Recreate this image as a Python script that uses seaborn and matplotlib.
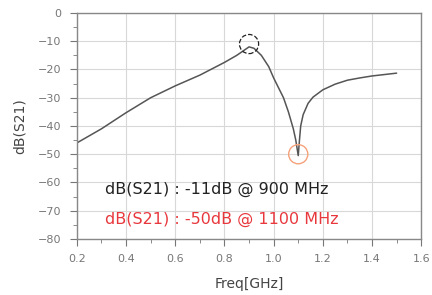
import matplotlib
matplotlib.use('Agg')
import matplotlib.pyplot as plt
import seaborn as sns
import pandas as pd
from matplotlib.ticker import MultipleLocator

# valores
freq = [0.2, 0.3, 0.4, 0.5, 0.6, 0.7, 0.8, 0.85, 0.9, 0.92, 0.95, 0.98, 1.0,
        1.02, 1.04, 1.06, 1.08, 1.09, 1.1, 1.105, 1.11, 1.12, 1.14, 1.16,
        1.2, 1.25, 1.3, 1.35, 1.4, 1.45, 1.5]
s21 = [-46, -41, -35.3, -30, -25.8, -22, -17.5, -15, -12, -12.5, -15, -19, -23,
       -26.5, -30, -35, -41, -45, -50.5, -45, -40, -36, -32, -29.8,
       -27.2, -25.2, -23.8, -23, -22.3, -21.8, -21.3]

mark_freq = [0.9, 1.1]
mark_db = [-11, -50]
mark_colors = ['#222222', '#f5a27a']
labels = ['dB(S21) : -11dB @ 900 MHz', 'dB(S21) : -50dB @ 1100 MHz']
label_colors = ['#222222', '#e8383d']

df = pd.DataFrame({'freq': freq, 's21': s21})

sns.set_style('whitegrid')
fig = plt.figure(figsize=(4.32, 2.95), dpi=100)
ax = fig.add_axes([0.178, 0.19, 0.797, 0.766])

sns.lineplot(x='freq', y='s21', data=df, color='#555555', linewidth=1.1, ax=ax)

# marcadores circulares
ax.scatter(mark_freq[0], mark_db[0], s=190, facecolors='none',
           edgecolors=mark_colors[0], linestyle='--', linewidths=0.9, zorder=5)
ax.scatter(mark_freq[1], mark_db[1], s=190, facecolors='none',
           edgecolors=mark_colors[1], linewidths=1.0, zorder=5)

ax.text(0.315, -62.5, labels[0], color=label_colors[0], fontsize=11.5, va='center')
ax.text(0.315, -73, labels[1], color=label_colors[1], fontsize=11.5, va='center')

ax.set_xlim(0.2, 1.6)
ax.set_ylim(-80, 0)
ax.xaxis.set_major_locator(MultipleLocator(0.2))
ax.xaxis.set_minor_locator(MultipleLocator(0.1))
ax.yaxis.set_major_locator(MultipleLocator(10))
ax.yaxis.set_minor_locator(MultipleLocator(5))
ax.set_xticklabels([f'{v:.1f}' for v in ax.get_xticks()])

ax.grid(True, which='major', color='#d8d8d8', linewidth=0.8)
for s in ax.spines.values():
    s.set_color('#888888')
    s.set_linewidth(1.0)
ax.tick_params(which='both', direction='out', color='#777777', labelcolor='#777777',
               labelsize=8, left=True, bottom=True)
ax.tick_params(which='major', length=5)
ax.tick_params(which='minor', length=3)
ax.tick_params(axis='x', which='major', pad=6)
ax.tick_params(axis='y', which='major', pad=6)

ax.set_xlabel('Freq[GHz]', fontsize=10, color='#444444', labelpad=9)
ax.set_ylabel('dB(S21)', fontsize=10, color='#444444', labelpad=8)

fig.savefig('out.png', dpi=100)
